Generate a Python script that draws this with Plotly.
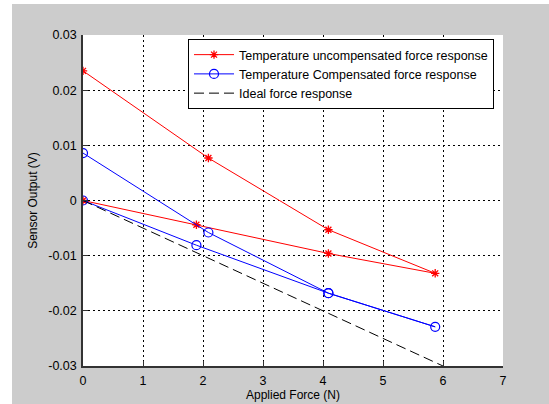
import plotly.graph_objects as go

# Data (loading then unloading path)
force_uncomp = [0, 1.89, 4.09, 5.87, 4.09, 2.09, 0]
volt_uncomp = [0.0, -0.0044, -0.0096, -0.0132, -0.0053, 0.0077, 0.0235]
force_comp = [0, 1.89, 4.09, 5.87, 4.09, 2.09, 0]
volt_comp = [0.0, -0.0081, -0.0168, -0.0229, -0.0168, -0.0058, 0.0086]
force_ideal = [0, 6]
volt_ideal = [0.0, -0.03]

x_ticks = [0, 1, 2, 3, 4, 5, 6, 7]
y_ticks = [0.03, 0.02, 0.01, 0, -0.01, -0.02, -0.03]
y_labels = ["0.03", "0.02", "0.01", "0", "-0.01", "-0.02", "-0.03"]

FONT = "Liberation Sans, Arial, sans-serif"

fig = go.Figure()
fig.add_trace(go.Scatter(
    x=force_uncomp, y=volt_uncomp, mode="lines+markers",
    name="Temperature uncompensated force response",
    line=dict(color="#ff0000", width=1),
    marker=dict(symbol="asterisk-open", size=7, color="#ff0000",
                line=dict(color="#ff0000", width=1.3)),
))
fig.add_trace(go.Scatter(
    x=force_comp, y=volt_comp, mode="lines+markers",
    name="Temperature Compensated force response",
    line=dict(color="#0000ff", width=1),
    marker=dict(symbol="circle-open", size=9, color="#0000ff",
                line=dict(color="#0000ff", width=1.2)),
))
fig.add_trace(go.Scatter(
    x=force_ideal, y=volt_ideal, mode="lines",
    name="Ideal force response",
    line=dict(color="#000000", width=1, dash="10px,5px"),
))

L, R, T, B = 83, 46, 35, 38
W, H = 549, 404
pw, ph = W - L - R, H - T - B

def px(xp):
    return (xp - L) / pw

def py(yp):
    return (H - B - yp) / ph

common_tick = dict(ticks="inside", ticklen=5, tickcolor="#333333", tickwidth=1)

fig.update_layout(
    width=W, height=H,
    margin=dict(l=L, r=R, t=T, b=B, autoexpand=False),
    paper_bgcolor="#cccccc",
    plot_bgcolor="#ffffff",
    font=dict(family=FONT, size=12, color="#000000"),
    showlegend=True,
    legend=dict(
        x=px(188), y=py(39), xanchor="left", yanchor="top",
        bgcolor="#ffffff", bordercolor="#000000", borderwidth=1,
        font=dict(family=FONT, size=12.5, color="#000000"),
        tracegroupgap=0, itemwidth=40,
    ),
    xaxis=dict(
        range=[0, 7], tickvals=x_ticks, ticktext=[str(v) for v in x_ticks],
        showgrid=True, gridcolor="#000000", gridwidth=1, griddash="2px,3px",
        zeroline=False, showline=True, linecolor="#333333", linewidth=1.5,
        ticklabelstandoff=2, tickfont=dict(size=12.5),
        title=dict(text="Applied Force (N)", standoff=4,
                   font=dict(family=FONT, size=12)),
        automargin=False, fixedrange=True, **common_tick,
    ),
    yaxis=dict(
        range=[-0.03, 0.03], tickvals=y_ticks, ticktext=y_labels,
        showgrid=True, gridcolor="#000000", gridwidth=1, griddash="2px,3px",
        zeroline=False, showline=True, linecolor="#333333", linewidth=1.5,
        ticklabelstandoff=2, tickfont=dict(size=12.5),
        title=dict(text="Sensor Output (V)", standoff=8,
                   font=dict(family=FONT, size=12)),
        automargin=False, fixedrange=True, **common_tick,
    ),
    xaxis2=dict(
        overlaying="x", side="top", range=[0, 7], tickvals=x_ticks,
        showticklabels=False, showgrid=False, zeroline=False, showline=False,
        fixedrange=True, **common_tick,
    ),
    yaxis2=dict(
        overlaying="y", side="right", range=[-0.03, 0.03], tickvals=y_ticks,
        showticklabels=False, showgrid=False, zeroline=False, showline=False,
        fixedrange=True, **common_tick,
    ),
    shapes=[
        dict(type="rect", xref="paper", yref="paper", layer="above",
             x0=px(-5), x1=px(12), y0=py(H + 5), y1=py(-5),
             fillcolor="#ffffff", line=dict(width=0)),
        dict(type="rect", xref="paper", yref="paper", layer="above",
             x0=px(-5), x1=px(W + 5), y0=py(4), y1=py(-5),
             fillcolor="#ffffff", line=dict(width=0)),
    ],
)

fig.write_html("out.html")
